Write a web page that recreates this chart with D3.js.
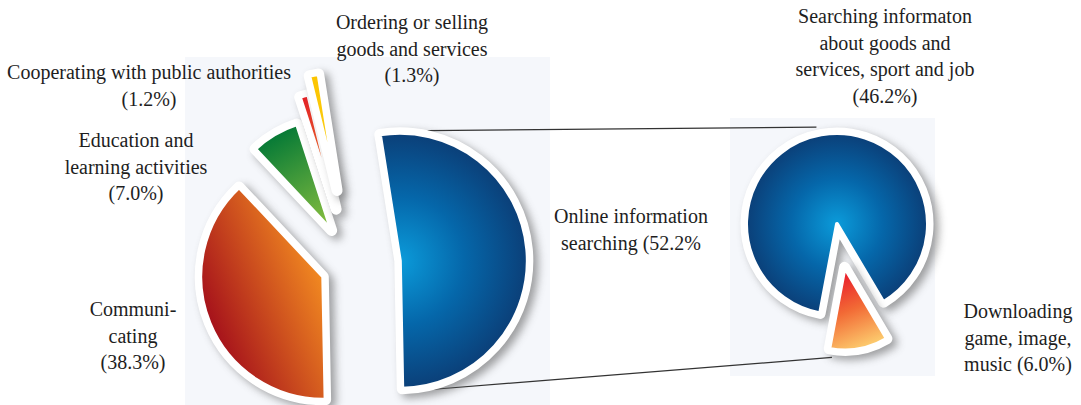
<!DOCTYPE html>
<html>
<head>
<meta charset="utf-8">
<title>Internet use purposes</title>
<script src="https://cdn.jsdelivr.net/npm/d3@7"></script>
</head>
<body style="margin:0;background:#ffffff">
<div id="chart"></div>
<script>
// purposes of internet use (left pie), clockwise from the big blue slice
const purposes = ["Online information searching", "Communicating", "Education and learning activities",
                  "Cooperating with public authorities", "Ordering or selling goods and services"];
const purposeShare = [52.2, 38.3, 7.0, 1.2, 1.3];
// printed line breaks ({v} = value)
const purposeText = [["Online information", "searching ({v}%"],
                     ["Communi-", "cating", "({v}%)"],
                     ["Education and", "learning activities", "({v}%)"],
                     ["Cooperating with public authorities", "({v}%)"],
                     ["Ordering or selling", "goods and services", "({v}%)"]];

// breakdown of online information searching (right pie)
const searchParts = ["Searching informaton about goods and services, sport and job", "Downloading game, image, music"];
const searchShare = [46.2, 6.0];
const searchText = [["Searching informaton", "about goods and", "services, sport and job", "({v}%)"],
                    ["Downloading", "game, image,", "music ({v}%)"]];

const W = 1081, H = 405, DEG = Math.PI / 180, GAP = 26.5;

const leftPie = {
  center: [352, 265], start: -9, explode: [48, 31, 40, 58, 76], radius: [128, 123, 112, 118, 118],
  fills: [["radial", "#0b9bda", "#0567aa", "#0b3f78"], ["linear", "#a5111b", "#f28a21"],
          ["linear", "#057936", "#8dc23f"], ["linear", "#e41f26", "#f59a2c"], ["linear", "#fcc400", "#f9d21a"]],
  textAt: [[631, 223], [133, 316], [136, 147], [149, 79], [412, 29]]
};
const rightPie = {
  center: [837, 224], start: -169.3, explode: [0, 44], radius: [91, 83],
  fills: [["radial", "#0b9bda", "#0567aa", "#0b3f78"], ["down", "#e8112a", "#f26a35", "#fdcf70"]],
  textAt: [[885, 23], [1018, 318]]
};

const chart = d3.select("#chart").append("svg").attr("width", W).attr("height", H);
const defs = chart.append("defs");

const blurF = defs.append("filter").attr("id", "soft")
  .attr("x", "-50%").attr("y", "-50%").attr("width", "200%").attr("height", "200%");
blurF.append("feGaussianBlur").attr("stdDeviation", 4.5);

chart.append("rect").attr("x", 185).attr("y", 57).attr("width", 365).attr("height", 348).attr("fill", "#f5f7fb");
chart.append("rect").attr("x", 730).attr("y", 118).attr("width", 205).attr("height", 258).attr("fill", "#f5f7fb");

const pt = (c, a, r) => [c[0] + r * Math.sin(a), c[1] - r * Math.cos(a)];

function slices(values, cfg, tag) {
  return d3.pie().sort(null).value(v => v)
    .startAngle(cfg.start * DEG).endAngle((cfg.start + 360) * DEG)(values)
    .map((d, i) => {
      d.mid = (d.startAngle + d.endAngle) / 2;
      d.r = cfg.radius[i];
      d.apex = pt(cfg.center, d.mid, cfg.explode[i]);
      d.fill = cfg.fills[i];
      d.id = tag + i;
      return d;
    });
}
const L = slices(purposeShare, leftPie, "p");
const R = slices(searchShare, rightPie, "s");

// connector lines
const links = [
  [pt(L[0].apex, 12 * DEG, L[0].r + 5), pt(R[0].apex, -12 * DEG, R[0].r + 8)],
  [pt(L[0].apex, 165 * DEG, L[0].r + 5), pt(R[1].apex, 188 * DEG, R[1].r + 8)]
];
chart.append("g").selectAll("line").data(links).join("line")
  .attr("x1", d => d[0][0]).attr("y1", d => d[0][1])
  .attr("x2", d => d[1][0]).attr("y2", d => d[1][1])
  .attr("stroke", "#333").attr("stroke-width", 1.2);

function drawSlices(arcs) {
  const arc = d3.arc().innerRadius(0).outerRadius(d => d.r);
  arcs.forEach(d => {
    const [kind, ...stops] = d.fill;
    let gr;
    if (kind === "radial") {
      gr = defs.append("radialGradient").attr("id", d.id).attr("gradientUnits", "userSpaceOnUse")
        .attr("cx", 0).attr("cy", 0).attr("r", d.r);
    } else {
      const outer = kind === "down" ? pt([0, 0], d.startAngle + 8 * DEG, d.r) : pt([0, 0], d.mid, d.r);
      const a = kind === "down" ? [0, 0] : outer, b = kind === "down" ? outer : [0, 0];
      gr = defs.append("linearGradient").attr("id", d.id).attr("gradientUnits", "userSpaceOnUse")
        .attr("x1", a[0]).attr("y1", a[1]).attr("x2", b[0]).attr("y2", b[1]);
    }
    stops.forEach((c, k) => gr.append("stop").attr("offset", k / (stops.length - 1)).attr("stop-color", c));
  });

  const g = chart.append("g").selectAll("g").data(arcs).join("g")
    .attr("transform", d => `translate(${d.apex[0]},${d.apex[1]})`);

  g.append("path").attr("class", "shade")
    .attr("d", arc).attr("transform", "translate(5,4)")
    .attr("fill", "#555").attr("stroke", "#555").attr("stroke-width", 11)
    .attr("stroke-linejoin", "round").attr("opacity", 0.55)
    .attr("filter", "url(#soft)");

  g.append("path").attr("class", "rim")
    .attr("d", arc).attr("fill", "#fff").attr("stroke", "#fff")
    .attr("stroke-width", 11).attr("stroke-linejoin", "round");

  g.append("path").attr("class", "slice")
    .attr("d", arc).attr("fill", d => `url(#${d.id})`)
    .attr("stroke", "#fff").attr("stroke-width", 4).attr("stroke-linejoin", "round");
}
drawSlices(L);
drawSlices(R);

function drawText(lines, values, at) {
  lines.forEach((ls, i) => {
    const t = chart.append("text")
      .attr("x", at[i][0]).attr("y", at[i][1])
      .attr("text-anchor", "middle")
      .attr("font-family", "Liberation Serif")
      .attr("font-size", 20).attr("fill", "#1e1e1e");
    ls.forEach((s, k) => t.append("tspan")
      .attr("x", at[i][0]).attr("dy", k ? GAP : 0)
      .text(s.replace("{v}", values[i].toFixed(1))));
  });
}
drawText(purposeText, purposeShare, leftPie.textAt);
drawText(searchText, searchShare, rightPie.textAt);
</script>
</body>
</html>
